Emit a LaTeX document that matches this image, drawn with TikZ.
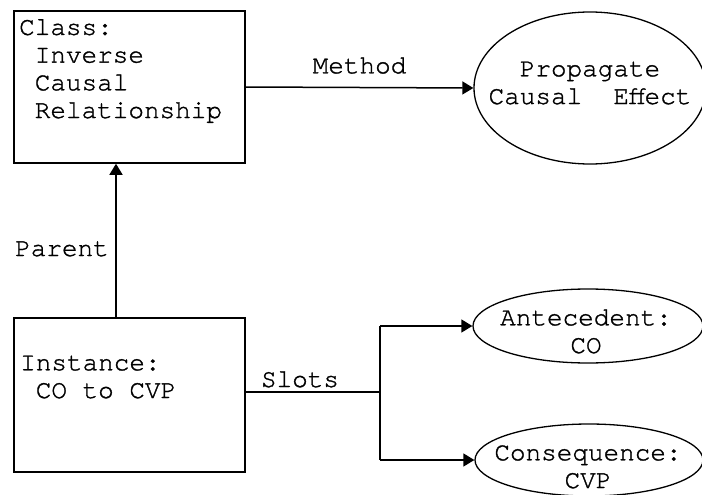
\documentclass[tikz,border=0pt]{standalone}
\usepackage{fontspec}
\newfontfamily\cour[FakeBold=1.2]{TeX Gyre Cursor}
\usetikzlibrary{arrows.meta,shapes.geometric,calc}
\tikzset{
  box/.style={draw, line width=1.5pt, rectangle, inner sep=0pt},
  oval/.style={draw, line width=1.3pt, ellipse, inner sep=0pt},
  txt/.style={inner sep=0pt, font=\cour\fontsize{26}{27.7}\selectfont},
  link/.style={line width=1.5pt},
  arr/.style={link, -{Triangle[length=11pt,width=13pt]}},
}
\newcommand{\ind}{\hspace*{0.6em}}
\begin{document}
\begin{tikzpicture}[x=1pt,y=-1pt]
\useasboundingbox (0,0) rectangle (702,495);

% frames
\node[box, minimum width=231pt, minimum height=152pt] (cls) at (129.5,87) {};
\node[box, minimum width=231pt, minimum height=154pt] (inst) at (129.5,395) {};

% ovals
\node[oval, minimum width=232pt, minimum height=152pt] (prop) at (590,88) {};
\node[oval, minimum width=230pt, minimum height=74pt] (ante) at (588,326) {};
\node[oval, minimum width=228pt, minimum height=72pt] (cons) at (589,460) {};

% texts of the frames (base anchor = last line's baseline)
\node[txt, anchor=base west, align=left] (clstxt) at (19,118)
  {Class:\\\ind Inverse\\\ind Causal\\\ind Relationship};
\node[txt, anchor=base west, align=left] (insttxt) at (20,398)
  {Instance:\\\ind CO to CVP};

% texts of the ovals
\node[txt, anchor=base, align=center] (proptxt) at (590,104)
  {Propagate\\Causal\ind\ Effect};
\node[txt, anchor=base, align=center] (antetxt) at (586,353)
  {Antecedent:\\CO};
\node[txt, anchor=base, align=center] (constxt) at (588,488)
  {Consequence:\\CVP};

% connectors
\draw[arr] (cls.east) -- node[txt, above=13pt] (meth) {Method} (prop.west);

\coordinate (px) at (116,0);
\draw[arr] (inst.north -| px) -- (cls.south -| px);
\node[txt, anchor=base west] (par) at (15,256) {Parent};

\coordinate (junc) at (380,392);
\draw[link] (inst.east |- junc) -- (junc);
\node[txt, anchor=base] (slots) at (300,387) {Slots};
\draw[link] (junc |- ante.west) -- (junc |- cons.west);
\draw[arr] (junc |- ante.west) -- (ante.west);
\draw[arr] (junc |- cons.west) -- (cons.west);
\end{tikzpicture}
\end{document}
